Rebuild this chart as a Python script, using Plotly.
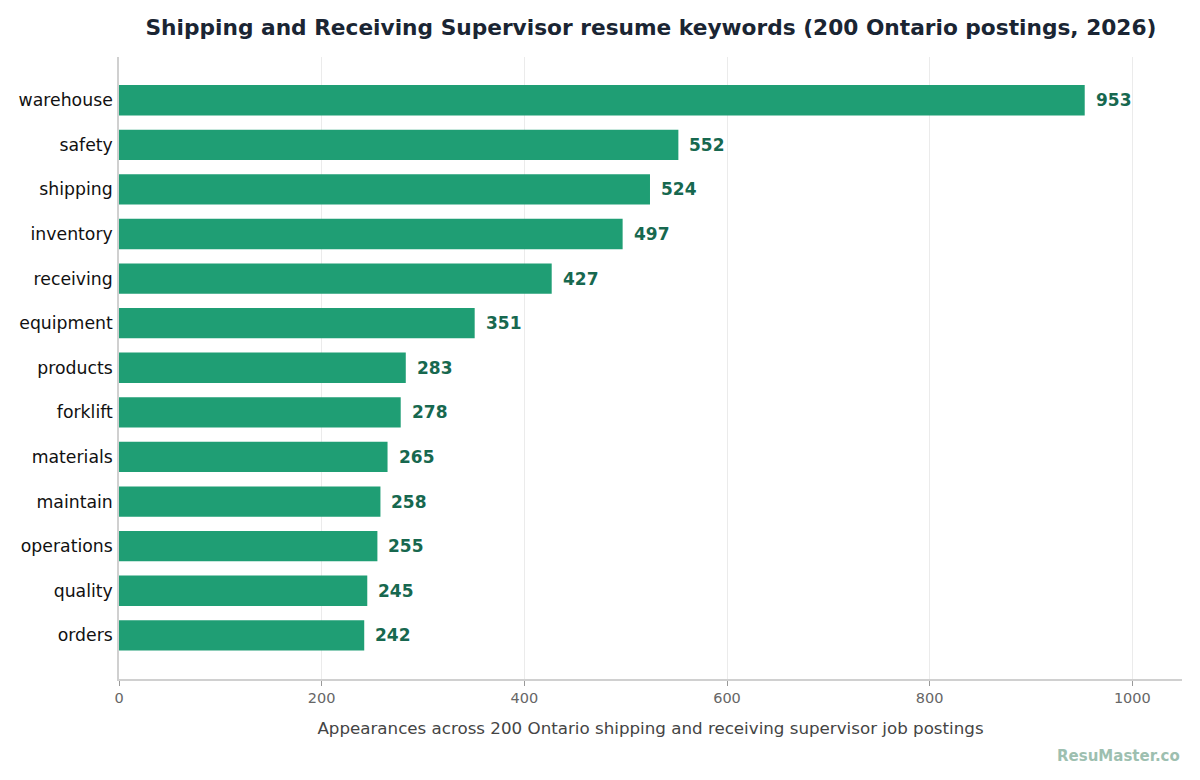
import plotly.graph_objects as go

# keyword counts across 200 postings
keywords = ["warehouse", "safety", "shipping", "inventory", "receiving", "equipment",
            "products", "forklift", "materials", "maintain", "operations", "quality", "orders"]
counts = [953, 552, 524, 497, 427, 351, 283, 278, 265, 258, 255, 245, 242]
x_ticks = [0, 200, 400, 600, 800, 1000]

bar_color = "#1f9e74"
label_color = "#17684f"

fig = go.Figure()
fig.add_trace(go.Bar(
    x=counts, y=keywords, orientation="h",
    marker=dict(color=bar_color, line=dict(width=0)),
    width=0.68, hoverinfo="x+y",
))

# value labels next to each bar
for k, v in zip(keywords, counts):
    fig.add_annotation(x=v, y=k, xref="x", yref="y", text=f"<b>{v}</b>",
                       showarrow=False, xanchor="left", xshift=9,
                       font=dict(size=17, color=label_color, family="DejaVu Sans"))

fig.add_annotation(text="<b>ResuMaster.co</b>", xref="paper", yref="paper",
                   x=1.0, y=-0.124, xanchor="right", yanchor="middle", showarrow=False,
                   font=dict(size=15, color="#9dbfb0", family="DejaVu Sans"))

# page has an 8px body margin, so the figure is a bit smaller than the window
fig.update_layout(
    width=1192, height=772,
    margin=dict(l=111, r=18, t=49, b=101),
    paper_bgcolor="white", plot_bgcolor="white",
    font=dict(family="DejaVu Sans", color="#222"),
    title=dict(text="<b>Shipping and Receiving Supervisor resume keywords (200 Ontario postings, 2026)</b>",
               x=0.5394, xanchor="center", y=0.975, yanchor="middle",
               font=dict(size=21.7, color="#1a2533")),
    showlegend=False,
)
fig.update_xaxes(
    range=[0, 1049], tickvals=x_ticks, showgrid=True, gridcolor="#ebebeb", gridwidth=1,
    showline=True, linecolor="#d0d0d0", linewidth=1.5, ticks="outside", ticklen=5,
    tickcolor="#999", tickfont=dict(size=14.5, color="#666"), zeroline=False,
    automargin=False,
    title=dict(text="Appearances across 200 Ontario shipping and receiving supervisor job postings",
               font=dict(size=16.7, color="#444"), standoff=17),
)
fig.update_yaxes(
    categoryorder="array", categoryarray=keywords, range=[12.98, -0.97],
    showline=True, linecolor="#d0d0d0", linewidth=1.5, showgrid=False, ticks="",
    tickfont=dict(size=17.3, color="#111"), ticklabelstandoff=1, automargin=False,
)

fig.write_html("out.html")
